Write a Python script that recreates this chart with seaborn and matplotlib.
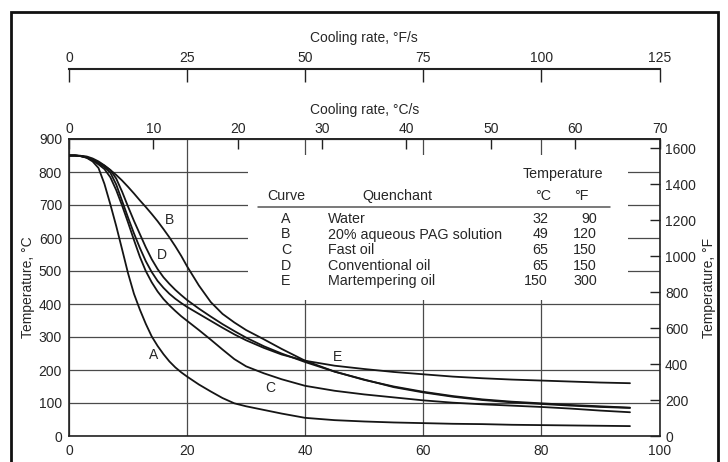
import matplotlib
matplotlib.use("Agg")
import matplotlib.pyplot as plt
import seaborn as sns
import pandas as pd
from matplotlib.patches import Rectangle
from matplotlib.lines import Line2D

# ---------------- data ----------------
time_s = [0, 1, 2, 3, 4, 5, 6, 7, 8, 9, 10, 11, 12, 13, 14, 15, 16, 17, 18, 19, 20,
          22, 24, 26, 28, 30, 33, 36, 40, 45, 50, 55, 60, 65, 70, 75, 80, 85, 90, 95]
temp_A = [850, 850, 848, 843, 832, 812, 764, 702, 636, 565, 493, 431, 383, 340, 302, 273, 248, 226, 208, 193, 180,
          156, 135, 115, 99, 90, 79, 68, 55, 48, 44, 41, 39, 37, 36, 34, 33, 32, 31, 30]
temp_B = [850, 850, 849, 847, 841, 832, 820, 806, 791, 774, 755, 735, 714, 694, 673, 651, 627, 602, 575, 546, 514,
          456, 406, 370, 344, 321, 293, 264, 228, 195, 171, 148, 132, 119, 109, 102, 97, 92, 88, 85]
temp_C = [850, 850, 848, 844, 835, 823, 809, 784, 745, 698, 647, 594, 543, 500, 466, 438, 415, 396, 379, 363, 349,
          321, 292, 262, 233, 211, 190, 172, 152, 137, 126, 117, 108, 101, 96, 92, 88, 83, 77, 72]
temp_D = [850, 850, 849, 845, 838, 829, 819, 806, 780, 740, 695, 652, 612, 572, 536, 506, 481, 461, 443, 427, 412,
          386, 362, 339, 318, 298, 272, 250, 224, 195, 170, 150, 134, 121, 111, 104, 99, 94, 90, 86]
temp_E = [850, 850, 848, 844, 836, 826, 815, 798, 762, 712, 662, 614, 570, 530, 497, 470, 449, 431, 416, 403, 391,
          370, 349, 328, 308, 290, 267, 247, 228, 213, 203, 194, 187, 180, 175, 171, 168, 165, 162, 160]

curves = ["A", "B", "C", "D", "E"]
quenchants = ["Water", "20% aqueous PAG solution", "Fast oil", "Conventional oil", "Martempering oil"]
bath_c = [32, 49, 65, 65, 150]
bath_f = [90, 120, 150, 150, 300]

time_ticks = [0, 20, 40, 60, 80, 100]
temp_c_ticks = [0, 100, 200, 300, 400, 500, 600, 700, 800, 900]
temp_f_ticks = [0, 200, 400, 600, 800, 1000, 1200, 1400, 1600]
rate_c_ticks = [0, 10, 20, 30, 40, 50, 60, 70]
rate_f_ticks = [0, 25, 50, 75, 100, 125]

# curve label positions (time, temperature)
label_t = [14.3, 17.1, 34.1, 15.7, 45.4]
label_T = [245, 655, 145, 548, 240]

# ---------------- style ----------------
sns.set_theme(style="white")
plt.rcParams["font.family"] = ["Liberation Sans", "DejaVu Sans"]
TXT = "#262626"
GRID = "#4a4a4a"
FS = 10

W, H = 728, 462
fig = plt.figure(figsize=(W / 100, H / 100), dpi=100)

def fx(px):
    return px / W

def fy(py):
    return 1 - py / H

L, R, T, B = 69, 659.5, 139, 436
ax = fig.add_axes([fx(L), fy(B), fx(R - L), (B - T) / H])

df = pd.DataFrame({
    "time": time_s * 5,
    "temp": temp_A + temp_B + temp_C + temp_D + temp_E,
    "curve": sum([[c] * len(time_s) for c in curves], []),
})
sns.lineplot(data=df, x="time", y="temp", hue="curve", palette=["#151515"] * 5,
             estimator=None, sort=False, legend=False, lw=1.3, ax=ax, zorder=3)

ax.set_xlim(0, 100)
ax.set_ylim(0, 900)
ax.set_xticks(time_ticks)
ax.set_yticks(temp_c_ticks)
ax.set_xlabel("")
ax.set_ylabel("Temperature, °C", fontsize=FS, color=TXT, labelpad=3)
ax.set_axisbelow(True)
ax.grid(True, color=GRID, lw=0.9)
ax.tick_params(axis="both", length=0, labelsize=FS, labelcolor=TXT)
ax.tick_params(axis="x", pad=6)
ax.tick_params(axis="y", pad=5)
for s in ax.spines.values():
    s.set_color("#222222")
    s.set_linewidth(1.2)

# white box for the table (covers the grid)
ax.add_patch(Rectangle((30.3, 412), 94.6 - 30.3, 851 - 412, facecolor="white",
                       edgecolor="none", zorder=1))

# curve labels
for c, t, v in zip(curves, label_t, label_T):
    ax.text(t, v, c, ha="center", va="center", fontsize=FS, color=TXT, zorder=4)

# top axis: cooling rate in °C/s
sec = ax.secondary_xaxis("top", functions=(lambda x: x * 0.7, lambda x: x / 0.7))
sec.set_xticks(rate_c_ticks)
sec.tick_params(direction="in", length=7, width=1, pad=2, labelsize=FS, labelcolor=TXT, color="#222222")
sec.set_xlabel("Cooling rate, °C/s", fontsize=FS, color=TXT, labelpad=6)
sec.spines["top"].set_linewidth(1.2)

# right axis: temperature in °F
ax2 = ax.twinx()
ax2.set_ylim(0, 1652)
ax2.set_yticks(temp_f_ticks)
ax2.grid(False)
ax2.tick_params(axis="y", direction="in", length=7, width=1, pad=4, labelsize=FS,
                labelcolor=TXT, color="#222222")
ax2.set_ylabel("Temperature, °F", fontsize=FS, color=TXT, labelpad=4)
for s in ax2.spines.values():
    s.set_visible(False)

# separate top axis: cooling rate in °F/s
axF = fig.add_axes([fx(L), fy(69), fx(R - L), 0.0001])
axF.set_xlim(0, 125)
axF.set_xticks(rate_f_ticks)
axF.set_yticks([])
axF.patch.set_alpha(0)
for side in ["left", "right", "bottom"]:
    axF.spines[side].set_visible(False)
axF.spines["top"].set_color("#222222")
axF.spines["top"].set_linewidth(1.5)
axF.xaxis.set_ticks_position("top")
axF.xaxis.set_label_position("top")
axF.tick_params(axis="x", direction="in", length=9, width=1, pad=3, labelsize=FS,
                labelcolor=TXT, color="#222222")
axF.set_xlabel("Cooling rate, °F/s", fontsize=FS, color=TXT, labelpad=6)

# table text
tfs = 10.3
fig.text(fx(563), fy(174), "Temperature", ha="center", va="center", fontsize=tfs, color=TXT)
fig.text(fx(286), fy(196), "Curve", ha="center", va="center", fontsize=tfs, color=TXT)
fig.text(fx(397), fy(196), "Quenchant", ha="center", va="center", fontsize=tfs, color=TXT)
fig.text(fx(543), fy(196), "°C", ha="center", va="center", fontsize=tfs, color=TXT)
fig.text(fx(581), fy(196), "°F", ha="center", va="center", fontsize=tfs, color=TXT)
fig.add_artist(Line2D([fx(258), fx(610)], [fy(207), fy(207)], color="#555555", lw=1.1))
row_y = [219, 234.5, 250, 265.5, 281]
for c, q, tc, tf, ry in zip(curves, quenchants, bath_c, bath_f, row_y):
    fig.text(fx(286), fy(ry), c, ha="center", va="center", fontsize=tfs, color=TXT)
    fig.text(fx(328), fy(ry), q, ha="left", va="center", fontsize=tfs, color=TXT)
    fig.text(fx(548), fy(ry), str(tc), ha="right", va="center", fontsize=tfs, color=TXT)
    fig.text(fx(597), fy(ry), str(tf), ha="right", va="center", fontsize=tfs, color=TXT)

# outer frame
fig.add_artist(Rectangle((fx(11), -0.05), fx(718 - 11), fy(12) + 0.05, transform=fig.transFigure,
                         fill=False, lw=2, ec="#111111", clip_on=False))

fig.savefig("out.png", dpi=100, facecolor="white")
